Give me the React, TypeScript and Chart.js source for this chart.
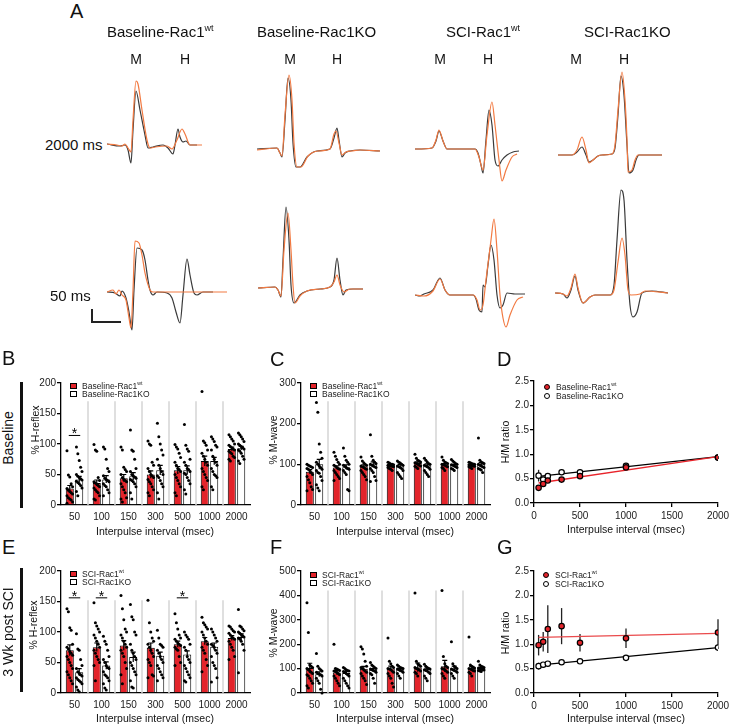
import React, { useEffect, useRef } from 'react';
import { Chart, registerables } from 'chart.js';

Chart.register(...registerables);

const FONT = 'Arial, "Liberation Sans", Helvetica, sans-serif';
Chart.defaults.font.family = FONT;
Chart.defaults.color = '#1a1a1a';

const RED = '#e3242b';
const ORANGE = '#f27a42';
const DARK = '#3a3a3a';

// ---------------- Panel A: representative traces ([time, amplitude]) ----------------
const baseWt2000Orange = [[0,0],[10,-1],[15,-2],[18,0],[21,-4],[24,-8],[26,24],[29,63],[31,60],[35,34],[40,4],[43,-4],[48,-3],[60,-2],[65,-5],[70,4],[75,15],[78,10],[83,-1],[95,-1]];
const baseWt2000Black = [[0,0],[13,-2],[18,-1],[21,-6],[24,-19],[26,14],[29,53],[33,34],[38,9],[41,-4],[46,-3],[56,-1],[61,-4],[66,-10],[68,-1],[71,15],[73,7],[76,2],[79,3],[83,-1],[90,-1]];
const baseWt50Orange = [[0,0],[6,2],[9,-2],[12,2],[15,-3],[19,-8],[22,-26],[24,-36],[26,2],[28,51],[32,49],[35,37],[38,19],[43,2],[46,0],[120,0]];
const baseWt50Black = [[0,0],[8,-1],[13,-4],[15,1],[19,-6],[22,-20],[25,-38],[27,2],[30,44],[35,42],[38,32],[41,12],[43,2],[46,-3],[50,0],[60,-1],[65,-6],[69,-20],[73,-31],[76,-3],[80,33],[83,17],[87,-1],[90,-3],[96,0],[106,0]];
const baseKo2000Orange = [[0,-1],[20,1],[23,-4],[25,-7],[28,34],[32,74],[35,49],[37,6],[40,-18],[44,-18],[51,-7],[61,-2],[73,0],[77,15],[79,18],[82,6],[85,-6],[89,-3],[95,-2],[103,-1],[123,-2]];
const baseKo2000Black = [[0,0],[20,1],[23,-4],[25,-8],[28,29],[31,71],[34,49],[36,6],[39,-18],[43,-18],[50,-8],[60,-2],[73,0],[77,11],[80,21],[82,9],[85,-8],[88,-4],[93,-2],[103,-1],[123,-2]];
const baseKo50Orange = [[0,0],[17,1],[20,-2],[23,-8],[26,38],[30,75],[33,38],[35,3],[37,-15],[42,-8],[49,-3],[62,-1],[72,1],[76,6],[79,13],[82,3],[86,-4],[92,-1],[105,-1]];
const baseKo50Black = [[0,0],[17,1],[20,-2],[23,-9],[25,28],[28,81],[31,48],[33,3],[36,-15],[42,-7],[49,-3],[62,-1],[72,1],[76,8],[79,30],[82,8],[85,-7],[88,-2],[95,-1],[105,-1]];
const sciWt2000Orange = [[0,0],[17,1],[21,9],[24,19],[28,8],[32,0],[60,0],[64,-8],[68,-21],[72,14],[77,47],[80,24],[84,-11],[87,-32],[91,-21],[97,-8],[102,-5]];
const sciWt2000Black = [[0,0],[17,1],[21,8],[24,18],[28,8],[32,0],[60,0],[63,-4],[66,-16],[68,-24],[71,9],[74,39],[77,24],[80,-11],[83,-17],[87,-11],[92,-6],[98,-3],[104,-2]];
const sciWt50Orange = [[0,0],[9,-1],[18,4],[25,16],[30,5],[35,0],[58,0],[62,-5],[65,-15],[68,-10],[71,15],[76,55],[79,76],[82,45],[85,0],[88,-23],[91,-32],[95,-20],[102,-5],[108,-2]];
const sciWt50Black = [[0,0],[5,-1],[9,1],[18,5],[25,17],[30,5],[35,0],[58,0],[61,-4],[64,-15],[67,-17],[68,10],[70,8],[73,30],[76,50],[79,35],[82,0],[85,-13],[88,-10],[92,2],[100,1],[110,1]];
const sciKo2000Orange = [[0,0],[14,0],[19,5],[24,18],[28,5],[31,-8],[35,-5],[40,-1],[44,0],[54,1],[57,10],[60,45],[64,83],[67,55],[69,15],[70,-17],[74,-15],[77,-5],[80,0],[104,0]];
const sciKo2000Black = [[0,0],[14,0],[19,3],[24,8],[28,0],[31,-7],[35,-5],[40,-1],[44,0],[54,1],[57,7],[60,40],[63,79],[66,60],[69,10],[71,-18],[75,-15],[78,-5],[81,0],[104,0]];
const sciKo50Orange = [[0,2],[8,1],[12,-1],[16,7],[20,21],[23,7],[28,-8],[35,-2],[40,0],[55,0],[59,5],[63,33],[67,57],[70,40],[73,5],[76,0],[85,1],[90,4],[113,2]];
const sciKo50Black = [[0,2],[8,1],[12,-3],[16,5],[20,19],[23,5],[28,-8],[35,-2],[40,0],[55,0],[59,10],[62,55],[66,105],[69,95],[72,35],[75,-10],[78,-22],[82,-17],[87,2],[97,4],[113,2]];

// ---------------- Bar panels (B, C, E, F) ----------------
const intervals = ['50', '100', '150', '300', '500', '1000', '2000'];

// B: baseline % H-reflex
const bWtMean = [27, 36, 44, 50, 57, 72, 92];
const bWtSem = [5, 5, 6, 6, 6, 8, 3];
const bKoMean = [42, 42, 47, 57, 57, 72, 93];
const bKoSem = [5, 6, 6, 8, 7, 6, 3];
const bWtDots = [
  [89, 49, 46, 35, 30, 27, 24, 22, 20, 18, 15, 12, 10, 8, 5, 3],
  [99, 90, 88, 45, 40, 38, 36, 34, 32, 30, 28, 25, 22, 20, 15, 10, 8],
  [95, 90, 62, 58, 55, 50, 45, 42, 40, 38, 35, 30, 25, 20, 12, 10, 5],
  [105, 100, 98, 70, 65, 60, 55, 50, 48, 45, 42, 38, 35, 30, 25, 20, 15],
  [99, 95, 92, 85, 78, 70, 65, 60, 58, 55, 50, 45, 40, 35, 30, 20, 15],
  [186, 105, 102, 98, 90, 85, 80, 75, 70, 65, 60, 55, 50, 45, 40, 30, 25],
  [115, 112, 108, 105, 100, 98, 96, 94, 92, 90, 88, 86, 84, 80, 78, 75, 72],
];
const bKoDots = [
  [95, 84, 73, 62, 55, 50, 47, 45, 43, 41, 39, 37, 35, 32, 28, 22, 15],
  [95, 92, 75, 60, 55, 48, 44, 42, 40, 38, 35, 32, 30, 25, 20, 15],
  [123, 90, 88, 75, 60, 55, 50, 48, 46, 44, 42, 40, 38, 35, 30, 20, 10],
  [134, 112, 100, 90, 82, 75, 65, 60, 55, 50, 48, 45, 40, 35, 30, 20, 10],
  [132, 98, 92, 88, 75, 70, 65, 60, 58, 55, 52, 50, 45, 40, 35, 25, 18],
  [112, 108, 104, 98, 95, 90, 80, 75, 70, 65, 60, 55, 50, 48, 45, 30, 25],
  [118, 115, 112, 108, 104, 100, 98, 96, 94, 92, 90, 88, 85, 80, 75, 72, 68],
];

// C: baseline % M-wave
const cWtMean = [82, 92, 95, 98, 103, 100, 99];
const cWtSem = [5, 4, 4, 2, 3, 2, 1];
const cKoMean = [100, 93, 100, 97, 98, 98, 100];
const cKoSem = [12, 6, 6, 3, 3, 2, 4];
const cWtDots = [
  [100, 98, 96, 94, 92, 90, 88, 85, 80, 75, 70, 62, 55, 45, 38, 35],
  [130, 120, 112, 105, 100, 98, 95, 92, 90, 88, 85, 80, 75, 70, 65, 60],
  [118, 108, 104, 100, 98, 96, 94, 92, 90, 88, 85, 80, 75, 70, 62],
  [105, 103, 101, 100, 99, 98, 97, 96, 95, 94, 92, 90, 88, 85],
  [125, 115, 110, 108, 106, 104, 102, 100, 98, 96, 95, 93, 90],
  [118, 110, 106, 104, 102, 100, 99, 98, 96, 94, 92, 90, 85],
  [105, 104, 102, 101, 100, 99, 98, 97, 96, 95, 94, 92, 90],
];
const cKoDots = [
  [252, 228, 150, 130, 115, 105, 100, 96, 92, 88, 85, 80, 78, 70, 60, 50, 42, 35],
  [140, 120, 110, 105, 100, 98, 95, 92, 90, 88, 85, 80, 75, 38, 35],
  [173, 120, 110, 105, 102, 100, 98, 96, 94, 92, 90, 85, 80, 70, 60, 58],
  [108, 105, 103, 100, 98, 96, 94, 92, 90, 85, 80, 75, 70, 65],
  [115, 110, 106, 102, 100, 98, 96, 94, 92, 88, 85, 80, 75, 70],
  [112, 108, 105, 102, 100, 99, 98, 96, 94, 92, 90, 88, 85],
  [165, 110, 106, 104, 102, 100, 98, 96, 94, 92, 90, 88, 86, 80],
];

// E: 3 wk post SCI % H-reflex
const eWtMean = [70, 75, 78, 74, 80, 85, 90];
const eWtSem = [9, 7, 8, 8, 5, 6, 4];
const eKoMean = [34, 45, 59, 61, 63, 76, 92];
const eKoSem = [6, 6, 8, 6, 6, 6, 5];
const eWtDots = [
  [138, 133, 107, 103, 80, 75, 72, 68, 65, 62, 60, 55, 50, 45, 40, 35, 30, 25, 20, 15],
  [148, 115, 110, 105, 100, 95, 90, 85, 80, 75, 70, 65, 60, 55, 50, 45, 20],
  [160, 138, 120, 105, 100, 95, 90, 85, 80, 75, 70, 65, 60, 50, 40, 30, 15],
  [152, 115, 100, 90, 85, 80, 75, 70, 65, 60, 55, 50, 45, 30, 28, 25],
  [130, 115, 105, 95, 90, 88, 85, 82, 80, 78, 75, 72, 70, 60, 50, 45],
  [124, 115, 112, 108, 105, 100, 95, 90, 85, 80, 75, 70, 65, 55, 45, 35],
  [110, 108, 105, 102, 100, 98, 95, 92, 90, 88, 85, 80, 75, 70, 60, 55],
];
const eKoDots = [
  [97, 72, 70, 55, 45, 40, 35, 32, 30, 28, 25, 22, 20, 18, 15, 10, 5, 2],
  [93, 85, 80, 70, 60, 55, 50, 45, 42, 40, 35, 30, 28, 25, 20, 15, 8, 5],
  [145, 125, 120, 100, 95, 80, 70, 65, 60, 55, 50, 45, 40, 35, 30, 20, 10, 8],
  [103, 90, 80, 78, 75, 70, 65, 60, 55, 50, 45, 40, 35, 30, 25, 20],
  [100, 95, 92, 88, 80, 75, 70, 60, 55, 50, 45, 40, 35, 30, 25, 20, 18],
  [105, 100, 95, 90, 85, 80, 78, 75, 70, 65, 60, 50, 45, 40, 25, 18],
  [137, 110, 108, 105, 102, 100, 98, 96, 94, 92, 90, 88, 85, 80, 70, 33],
];

// F: 3 wk post SCI % M-wave
const fWtMean = [102, 84, 99, 100, 105, 110, 100];
const fWtSem = [20, 9, 10, 10, 18, 24, 9];
const fKoMean = [77, 82, 95, 97, 97, 100, 102];
const fKoSem = [10, 8, 5, 4, 5, 10, 3];
const fWtDots = [
  [370, 248, 115, 110, 105, 100, 95, 90, 85, 80, 75, 70, 60, 50, 40, 30, 20],
  [200, 100, 98, 95, 92, 90, 88, 85, 80, 75, 70, 60, 50, 40, 30],
  [190, 180, 160, 130, 110, 105, 100, 95, 90, 85, 80, 70, 60, 50, 35],
  [225, 130, 120, 110, 105, 100, 98, 95, 90, 85, 80, 70, 60, 40, 25],
  [410, 130, 120, 115, 110, 105, 100, 98, 95, 90, 85, 80, 70],
  [420, 150, 120, 110, 105, 100, 98, 95, 90, 85, 80, 70, 60],
  [230, 115, 110, 105, 102, 100, 98, 95, 92, 90, 85, 80, 70],
];
const fKoDots = [
  [162, 110, 100, 95, 90, 85, 80, 78, 75, 70, 60, 50, 40, 15, 0],
  [105, 100, 95, 92, 90, 88, 85, 80, 75, 70, 60, 50, 40, 30, 20],
  [125, 115, 110, 105, 100, 98, 95, 92, 90, 85, 80, 75, 60, 40],
  [115, 110, 105, 102, 100, 98, 95, 92, 90, 85, 80, 70, 60],
  [118, 110, 105, 100, 98, 95, 92, 90, 85, 80, 70, 60, 50],
  [210, 120, 110, 105, 100, 98, 95, 92, 90, 85, 80, 70, 60],
  [130, 115, 110, 108, 105, 102, 100, 98, 96, 94, 92, 90, 88],
];

// ---------------- H/M ratio panels (D, G) ----------------
const hmIntervals = [50, 100, 150, 300, 500, 1000, 2000];
const fitIntervals = [50, 2000];
const dWt = [0.31, 0.39, 0.46, 0.48, 0.55, 0.73, 0.93];
const dWtSem = [0.03, 0.04, 0.04, 0.05, 0.05, 0.05, 0.03];
const dKo = [0.56, 0.48, 0.55, 0.63, 0.63, 0.76, 0.93];
const dKoSem = [0.12, 0.05, 0.06, 0.06, 0.06, 0.04, 0.03];
const dWtFit = [0.41, 0.95];
const dKoFit = [0.545, 0.95];
const gWt = [0.98, 1.05, 1.31, 1.37, 1.03, 1.12, 1.24];
const gWtSem = [0.21, 0.2, 0.49, 0.37, 0.18, 0.2, 0.27];
const gKo = [0.55, 0.58, 0.6, 0.63, 0.65, 0.72, 0.93];
const gKoSem = [0.07, 0.05, 0.05, 0.04, 0.04, 0.03, 0.03];
const gWtFit = [1.14, 1.22];
const gKoFit = [0.57, 0.93];

// ---------------- chart builders ----------------
const toXY = (pairs: number[][]) => pairs.map(([x, y]) => ({ x, y }));
const zip = (xs: number[], ys: number[]) => xs.map((x, i) => ({ x, y: ys[i] }));

function traceConfig(orange: number[][], black: number[][]): any {
  const ds = (d: number[][], c: string) => ({
    data: toXY(d), borderColor: c, borderWidth: 1.2, pointRadius: 0,
    cubicInterpolationMode: 'monotone', fill: false,
  });
  return {
    type: 'line',
    data: { datasets: [ds(orange, ORANGE), ds(black, DARK)] },
    options: {
      animation: false, responsive: false, events: [],
      layout: { padding: 0 },
      plugins: { legend: { display: false }, tooltip: { enabled: false } },
      scales: {
        x: { type: 'linear', min: 0, max: 130, display: false },
        y: { type: 'linear', min: -50, max: 120, display: false },
      },
    },
  };
}

function barExtras(sepFrom: number, sig: { i: number; v: number }[]) {
  return {
    id: 'barExtras',
    beforeDatasetsDraw(chart: any) {
      const { ctx, chartArea, scales } = chart;
      const x = scales.x, y = scales.y;
      const n = chart.data.labels.length;
      ctx.save();
      ctx.strokeStyle = '#d4d4d4';
      ctx.lineWidth = 1.5;
      for (let i = 0; i < n - 1; i++) {
        const px = x.getPixelForValue(i + 0.5);
        ctx.beginPath();
        ctx.moveTo(px, y.getPixelForValue(sepFrom));
        ctx.lineTo(px, chartArea.bottom);
        ctx.stroke();
      }
      ctx.restore();
    },
    afterDatasetsDraw(chart: any) {
      const { ctx, scales } = chart;
      const y = scales.y;
      ctx.save();
      chart.data.datasets.forEach((ds: any, di: number) => {
        const meta = chart.getDatasetMeta(di);
        meta.data.forEach((bar: any, j: number) => {
          const v = ds.data[j];
          const s = ds.sem[j];
          const yt = y.getPixelForValue(v + s);
          const yb = y.getPixelForValue(Math.max(0, v - s));
          ctx.strokeStyle = '#000';
          ctx.lineWidth = 1.2;
          ctx.beginPath();
          ctx.moveTo(bar.x, yt); ctx.lineTo(bar.x, yb);
          ctx.moveTo(bar.x - 2.5, yt); ctx.lineTo(bar.x + 2.5, yt);
          ctx.stroke();
          ctx.fillStyle = '#000';
          ds.dots[j].forEach((d: number, k: number) => {
            const off = ((k % 5) - 2) * 1.4;
            ctx.beginPath();
            ctx.arc(bar.x + off, y.getPixelForValue(d), 1.5, 0, Math.PI * 2);
            ctx.fill();
          });
        });
      });
      const m0 = chart.getDatasetMeta(0), m1 = chart.getDatasetMeta(1);
      sig.forEach(({ i, v }) => {
        const x1 = m0.data[i].x, x2 = m1.data[i].x;
        const py = y.getPixelForValue(v);
        ctx.strokeStyle = '#000';
        ctx.lineWidth = 1;
        ctx.beginPath();
        ctx.moveTo(x1 - 1, py); ctx.lineTo(x2 + 1, py);
        ctx.stroke();
        ctx.fillStyle = '#000';
        ctx.font = `14px ${FONT}`;
        ctx.textAlign = 'center';
        ctx.textBaseline = 'alphabetic';
        ctx.fillText('*', (x1 + x2) / 2, py + 3);
      });
      ctx.restore();
    },
  };
}

const axisCommon = {
  border: { color: '#000', width: 1.3 },
};

function barConfig(p: any): any {
  const bar = (data: number[], fill: string, sem: number[], dots: number[][]) => ({
    data, sem, dots, backgroundColor: fill, borderColor: '#000', borderWidth: 1,
    categoryPercentage: 0.7, barPercentage: 0.85,
  });
  return {
    type: 'bar',
    data: {
      labels: intervals,
      datasets: [bar(p.wt, RED, p.wtSem, p.wtDots), bar(p.ko, '#ffffff', p.koSem, p.koDots)],
    },
    options: {
      animation: false, responsive: false, events: [],
      layout: { padding: { top: 12, right: 16, left: 0, bottom: 0 } },
      plugins: { legend: { display: false }, tooltip: { enabled: false } },
      scales: {
        x: {
          ...axisCommon,
          grid: { display: false, drawTicks: false },
          ticks: { color: '#1a1a1a', font: { size: 10 }, padding: 6, maxRotation: 0, autoSkip: false },
          afterFit: (s: any) => { s.height = 20; },
        },
        y: {
          ...axisCommon,
          min: 0, max: p.yMax,
          grid: { drawOnChartArea: false, color: '#000', tickLength: 4, lineWidth: 1.3 },
          ticks: { stepSize: p.yStep, color: '#1a1a1a', font: { size: 10 }, padding: 1 },
          afterFit: (s: any) => { s.width = 40; },
        },
      },
    },
    plugins: [barExtras(p.sepFrom, p.sig)],
  };
}

const errPlugin = {
  id: 'hmErr',
  beforeDatasetsDraw(chart: any) {
    const { ctx, scales } = chart;
    ctx.save();
    ctx.strokeStyle = '#222';
    ctx.lineWidth = 1.3;
    chart.data.datasets.forEach((ds: any, di: number) => {
      if (!ds.errs) return;
      const meta = chart.getDatasetMeta(di);
      meta.data.forEach((pt: any, j: number) => {
        const v = ds.data[j].y;
        ctx.beginPath();
        ctx.moveTo(pt.x, scales.y.getPixelForValue(v + ds.errs[j]));
        ctx.lineTo(pt.x, scales.y.getPixelForValue(v - ds.errs[j]));
        ctx.stroke();
      });
    });
    ctx.restore();
  },
};

function hmConfig(p: any): any {
  return {
    type: 'scatter',
    data: {
      datasets: [
        { type: 'scatter', data: zip(hmIntervals, p.wt), errs: p.wtSem, backgroundColor: RED, borderColor: '#000', borderWidth: 1.2, pointRadius: 2.7 },
        { type: 'scatter', data: zip(hmIntervals, p.ko), errs: p.koSem, backgroundColor: '#fff', borderColor: '#000', borderWidth: 1.2, pointRadius: 2.7 },
        { type: 'line', data: zip(fitIntervals, p.wtFit), borderColor: p.fitRed, borderWidth: 1.3, pointRadius: 0, fill: false },
        { type: 'line', data: zip(fitIntervals, p.koFit), borderColor: '#000', borderWidth: 1.3, pointRadius: 0, fill: false },
      ],
    },
    options: {
      animation: false, responsive: false, events: [],
      layout: { padding: { top: 12, right: 16, left: 0, bottom: 0 } },
      plugins: { legend: { display: false }, tooltip: { enabled: false } },
      scales: {
        x: {
          ...axisCommon, type: 'linear', min: 0, max: 2000,
          grid: { drawOnChartArea: false, color: '#000', tickLength: 4, lineWidth: 1.3 },
          ticks: { stepSize: 500, color: '#1a1a1a', font: { size: 10 }, padding: 3, maxRotation: 0, callback: (v: any) => String(v) },
          afterFit: (s: any) => { s.height = 20; },
        },
        y: {
          ...axisCommon, type: 'linear', min: 0, max: 2.5,
          grid: { drawOnChartArea: false, color: '#000', tickLength: 4, lineWidth: 1.3 },
          ticks: { stepSize: 0.5, color: '#1a1a1a', font: { size: 10 }, padding: 1, callback: (v: any) => Number(v).toFixed(1) },
          afterFit: (s: any) => { s.width = 40; },
        },
      },
    },
    plugins: [errPlugin],
  };
}

// ---------------- React pieces ----------------
function ChartBox({ left, top, width, height, make }: any) {
  const ref = useRef<HTMLCanvasElement>(null);
  useEffect(() => {
    const chart = new Chart(ref.current as HTMLCanvasElement, make());
    return () => chart.destroy();
  }, []);
  return (
    <canvas ref={ref} width={width} height={height}
      style={{ position: 'absolute', left, top, width, height }} />
  );
}

function Txt({ x, y, size, children, align = 'center', rot = 0, color = '#111' }: any) {
  const tx = align === 'center' ? '-50%' : align === 'right' ? '-100%' : '0';
  return (
    <div style={{
      position: 'absolute', left: x, top: y, fontSize: size, lineHeight: 1, whiteSpace: 'nowrap', color,
      transform: `translate(${tx}, -50%)${rot ? ` rotate(${rot}deg)` : ''}`,
    }}>{children}</div>
  );
}

const Sup = ({ children }: any) => (
  <span style={{ fontSize: '0.6em', verticalAlign: 'super', lineHeight: 0 }}>{children}</span>
);

function Legend({ x, y, gap, items, shape }: any) {
  return (
    <>
      {items.map((it: any, i: number) => (
        <React.Fragment key={i}>
          <div style={{
            position: 'absolute', left: x, top: y + i * gap - 3, width: shape === 'circle' ? 6 : 7, height: 6,
            background: it.fill, border: '1.2px solid #000', boxSizing: 'border-box',
            borderRadius: shape === 'circle' ? '50%' : 0,
          }} />
          <Txt x={x + 12} y={y + i * gap} size={8.5} align="left" color="#222">{it.label}</Txt>
        </React.Fragment>
      ))}
    </>
  );
}

const TRACES = [
  { left: 107, base: 144, o: baseWt2000Orange, b: baseWt2000Black },
  { left: 107, base: 292, o: baseWt50Orange, b: baseWt50Black },
  { left: 257, base: 149, o: baseKo2000Orange, b: baseKo2000Black },
  { left: 258, base: 288, o: baseKo50Orange, b: baseKo50Black },
  { left: 415, base: 149, o: sciWt2000Orange, b: sciWt2000Black },
  { left: 415, base: 295, o: sciWt50Orange, b: sciWt50Black },
  { left: 558, base: 155, o: sciKo2000Orange, b: sciKo2000Black },
  { left: 555, base: 295, o: sciKo50Orange, b: sciKo50Black },
];

export default function App() {
  const wtB = [{ fill: RED, label: <>Baseline-Rac1<Sup>wt</Sup></> }, { fill: '#fff', label: 'Baseline-Rac1KO' }];
  const wtS = [{ fill: RED, label: <>SCI-Rac1<Sup>wt</Sup></> }, { fill: '#fff', label: 'SCI-Rac1KO' }];
  return (
    <div style={{ position: 'fixed', left: 0, top: 0, width: 729, height: 726, background: '#fff', overflow: 'hidden', fontFamily: FONT }}>
      {TRACES.map((t, i) => (
        <ChartBox key={i} left={t.left} top={t.base - 120} width={130} height={170} make={() => traceConfig(t.o, t.b)} />
      ))}

      <ChartBox left={21} top={371} width={245} height={154} make={() => barConfig({
        wt: bWtMean, wtSem: bWtSem, wtDots: bWtDots, ko: bKoMean, koSem: bKoSem, koDots: bKoDots,
        yMax: 200, yStep: 50, sepFrom: 170, sig: [{ i: 0, v: 114 }] })} />
      <ChartBox left={261} top={371} width={245} height={154} make={() => barConfig({
        wt: cWtMean, wtSem: cWtSem, wtDots: cWtDots, ko: cKoMean, koSem: cKoSem, koDots: cKoDots,
        yMax: 300, yStep: 100, sepFrom: 255, sig: [] })} />
      <ChartBox left={494} top={369} width={240} height={154} make={() => hmConfig({
        wt: dWt, wtSem: dWtSem, ko: dKo, koSem: dKoSem, wtFit: dWtFit, koFit: dKoFit, fitRed: '#e8242b' })} />
      <ChartBox left={21} top={559} width={245} height={154} make={() => barConfig({
        wt: eWtMean, wtSem: eWtSem, wtDots: eWtDots, ko: eKoMean, koSem: eKoSem, koDots: eKoDots,
        yMax: 200, yStep: 50, sepFrom: 152, sig: [{ i: 0, v: 156 }, { i: 1, v: 156 }, { i: 4, v: 156 }] })} />
      <ChartBox left={261} top={559} width={245} height={154} make={() => barConfig({
        wt: fWtMean, wtSem: fWtSem, wtDots: fWtDots, ko: fKoMean, koSem: fKoSem, koDots: fKoDots,
        yMax: 500, yStep: 100, sepFrom: 420, sig: [] })} />
      <ChartBox left={494} top={559} width={240} height={154} make={() => hmConfig({
        wt: gWt, wtSem: gWtSem, ko: gKo, koSem: gKoSem, wtFit: gWtFit, koFit: gKoFit, fitRed: '#ea4a4c' })} />

      {/* Panel A text */}
      <Txt x={70} y={11} size={20} align="left">A</Txt>
      <Txt x={107} y={31} size={15} align="left">Baseline-Rac1<Sup>wt</Sup></Txt>
      <Txt x={257} y={31} size={15} align="left">Baseline-Rac1KO</Txt>
      <Txt x={446} y={31} size={15} align="left">SCI-Rac1<Sup>wt</Sup></Txt>
      <Txt x={584} y={31} size={15} align="left">SCI-Rac1KO</Txt>
      {[[136, 'M'], [185, 'H'], [290, 'M'], [337, 'H'], [440, 'M'], [488, 'H'], [576, 'M'], [624, 'H']].map(([x, l], i) => (
        <Txt key={i} x={x} y={59} size={14}>{l}</Txt>
      ))}
      <Txt x={45} y={144} size={15} align="left">2000 ms</Txt>
      <Txt x={50} y={295} size={15} align="left">50 ms</Txt>
      <div style={{ position: 'absolute', left: 91, top: 309, width: 2, height: 14, background: '#222' }} />
      <div style={{ position: 'absolute', left: 91, top: 321, width: 30, height: 2, background: '#222' }} />

      {/* Panel letters */}
      <Txt x={2} y={358} size={20} align="left">B</Txt>
      <Txt x={270} y={359} size={20} align="left">C</Txt>
      <Txt x={497} y={359} size={20} align="left">D</Txt>
      <Txt x={2} y={547} size={20} align="left">E</Txt>
      <Txt x={270} y={547} size={20} align="left">F</Txt>
      <Txt x={497} y={547} size={20} align="left">G</Txt>

      {/* Row labels */}
      <Txt x={8} y={438} size={14} rot={-90}>Baseline</Txt>
      <div style={{ position: 'absolute', left: 20, top: 382, width: 2.5, height: 126, background: '#111' }} />
      <Txt x={8} y={632} size={14} rot={-90}>3 Wk post SCI</Txt>
      <div style={{ position: 'absolute', left: 20, top: 568, width: 2.5, height: 124, background: '#111' }} />

      {/* Axis titles */}
      <Txt x={35} y={430} size={10.5} rot={-90}>% H-reflex</Txt>
      <Txt x={273} y={440} size={10.5} rot={-90}>% M-wave</Txt>
      <Txt x={505} y={442} size={10.5} rot={-90}>H/M ratio</Txt>
      <Txt x={33} y={625} size={10.5} rot={-90}>% H-reflex</Txt>
      <Txt x={273} y={633} size={10.5} rot={-90}>% M-wave</Txt>
      <Txt x={505} y={633} size={10.5} rot={-90}>H/M ratio</Txt>
      <Txt x={155} y={531} size={10.5}>Interpulse interval (msec)</Txt>
      <Txt x={395} y={531} size={10.5}>Interpulse interval (msec)</Txt>
      <Txt x={626} y={529} size={10.5}>Interpulse interval (msec)</Txt>
      <Txt x={155} y={718} size={10.5}>Interpulse interval (msec)</Txt>
      <Txt x={395} y={718} size={10.5}>Interpulse interval (msec)</Txt>
      <Txt x={626} y={718} size={10.5}>Interpulse interval (msec)</Txt>

      {/* Legends */}
      <Legend x={70} y={386} gap={8} items={wtB} />
      <Legend x={310} y={386} gap={8} items={wtB} />
      <Legend x={544} y={387} gap={9} items={wtB} shape="circle" />
      <Legend x={70} y={574} gap={8} items={wtS} />
      <Legend x={310} y={575} gap={8} items={wtS} />
      <Legend x={543} y={575} gap={8.5} items={wtS} shape="circle" />
    </div>
  );
}
